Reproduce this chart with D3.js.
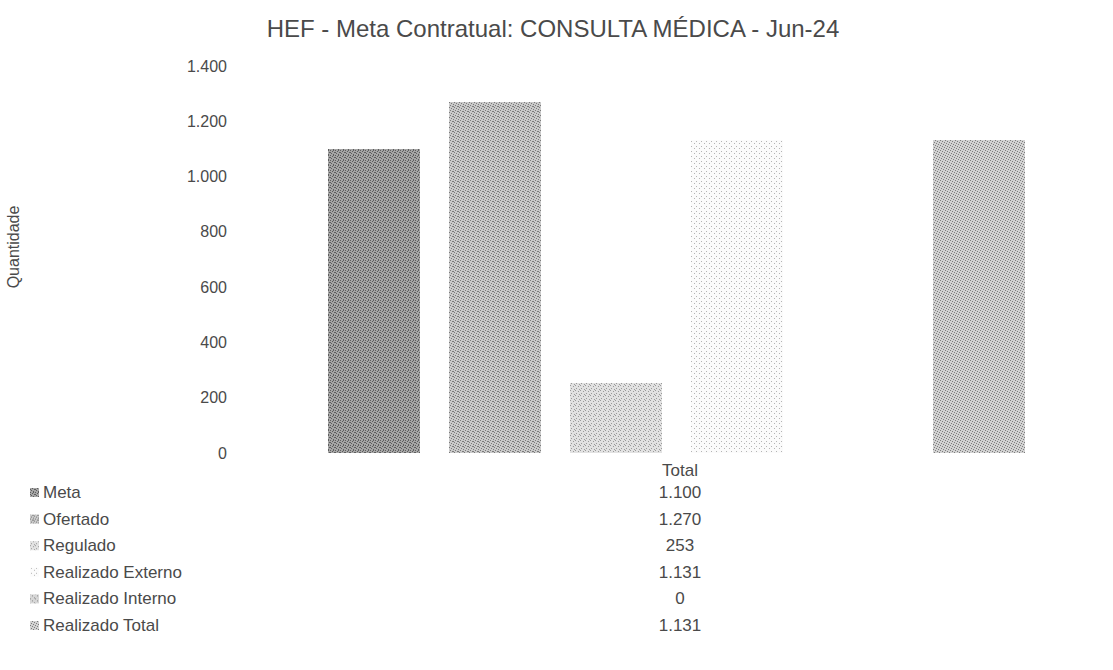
<!DOCTYPE html>
<html>
<head>
<meta charset="utf-8">
<script src="https://cdn.jsdelivr.net/npm/d3@7"></script>
<style>
  body { margin: 0; background: #fff; }
  text { font-family: "Liberation Sans", Arial, sans-serif; fill: #4a4a4a; }
</style>
</head>
<body>
<div id="chart"></div>
<script>
// data
const category = 'Total';
const series = ['Meta', 'Ofertado', 'Regulado', 'Realizado Externo', 'Realizado Interno', 'Realizado Total'];
const values = [1100, 1270, 253, 1131, 0, 1131];
const yTicks = [0, 200, 400, 600, 800, 1000, 1200, 1400];

const width = 1113;
const height = 670;

// pt-BR number format: 1.100
const locale = d3.formatLocale({ decimal: ',', thousands: '.', grouping: [3], currency: ['R$', ''] });
const fmt = locale.format(',');

const svg = d3.select('#chart').append('svg')
    .attr('width', width)
    .attr('height', height);

// stipple patterns to imitate the scanned greys
const fills = {
    'Meta':              { base: '#a6a6a6', dot: '#5e5e5e', dots: [[0,0],[2,1],[4,2],[1,3],[3,4],[3,0],[0,2]] },
    'Ofertado':          { base: '#cacaca', dot: '#7a7a7a', dots: [[0,0],[2,1],[4,2],[1,3],[3,4],[3,1]] },
    'Regulado':          { base: '#e2e2e2', dot: '#9a9a9a', dots: [[0,0],[3,1],[1,3],[4,4]] },
    'Realizado Externo': { base: '#fbfbfb', dot: '#b4b4b4', dots: [[1,1],[4,3]] },
    'Realizado Interno': { base: '#d6d6d6', dot: '#8a8a8a', dots: [[0,0],[2,2],[4,4]] },
    'Realizado Total':   { base: '#d2d2d2', dot: '#7c7c7c', dots: [[0,0],[2,1],[4,2],[1,3],[3,4]] }
};

const defs = svg.append('defs');
series.forEach((s, i) => {
    const p = defs.append('pattern')
        .attr('id', 'pat' + i)
        .attr('patternUnits', 'userSpaceOnUse')
        .attr('width', 5)
        .attr('height', 5);
    p.append('rect').attr('width', 5).attr('height', 5).attr('fill', fills[s].base);
    fills[s].dots.forEach(d => {
        p.append('rect').attr('x', d[0]).attr('y', d[1]).attr('width', 1).attr('height', 1).attr('fill', fills[s].dot);
    });
});

// scales
const y_scale = d3.scaleLinear()
    .domain([0, 1400])
    .range([453, 66]);

const x_scale = d3.scaleBand()
    .domain(series)
    .range([313, 1040])
    .paddingInner(0.24)
    .paddingOuter(0.125);

// title
svg.append('text')
    .attr('x', 553)
    .attr('y', 37)
    .attr('text-anchor', 'middle')
    .attr('font-size', 24)
    .attr('fill', '#505050')
    .text('HEF - Meta Contratual: CONSULTA MÉDICA - Jun-24');

// y axis (labels only, no line)
const y_axis = svg.append('g')
    .attr('transform', 'translate(227, 0)')
    .call(d3.axisLeft(y_scale).tickValues(yTicks).tickFormat(fmt).tickSize(0).tickPadding(0));
y_axis.select('.domain').remove();
y_axis.selectAll('text')
    .attr('font-size', 16)
    .attr('font-family', '"Liberation Sans", Arial, sans-serif')
    .attr('fill', '#4a4a4a');

// y label
svg.append('g').attr('transform', 'translate(19, 247)')
    .append('text')
    .attr('transform', 'rotate(-90)')
    .attr('text-anchor', 'middle')
    .attr('font-size', 16)
    .text('Quantidade');

// bars
svg.selectAll('.bar')
    .data(series)
    .enter()
    .append('rect')
    .attr('class', 'bar')
    .attr('x', d => x_scale(d))
    .attr('width', x_scale.bandwidth())
    .attr('y', (d, i) => y_scale(values[i]))
    .attr('height', (d, i) => y_scale(0) - y_scale(values[i]))
    .attr('fill', (d, i) => `url(#pat${i})`)
    .attr('shape-rendering', 'crispEdges');

// data table under the chart
const tableX = 680;
svg.append('text')
    .attr('x', tableX)
    .attr('y', 470)
    .attr('dy', '0.35em')
    .attr('text-anchor', 'middle')
    .attr('font-size', 17)
    .text(category);

const rowY = d3.scalePoint().domain(series).range([492, 625]);

const rows = svg.selectAll('.row')
    .data(series)
    .enter()
    .append('g')
    .attr('class', 'row')
    .attr('transform', d => `translate(0, ${rowY(d)})`);

rows.append('rect')
    .attr('x', 30)
    .attr('y', -4)
    .attr('width', 9)
    .attr('height', 9)
    .attr('fill', (d, i) => `url(#pat${i})`);

rows.append('text')
    .attr('x', 43)
    .attr('dy', '0.35em')
    .attr('font-size', 17)
    .text(d => d);

rows.append('text')
    .attr('x', tableX)
    .attr('dy', '0.35em')
    .attr('text-anchor', 'middle')
    .attr('font-size', 17)
    .text((d, i) => fmt(values[i]));
</script>
</body>
</html>
